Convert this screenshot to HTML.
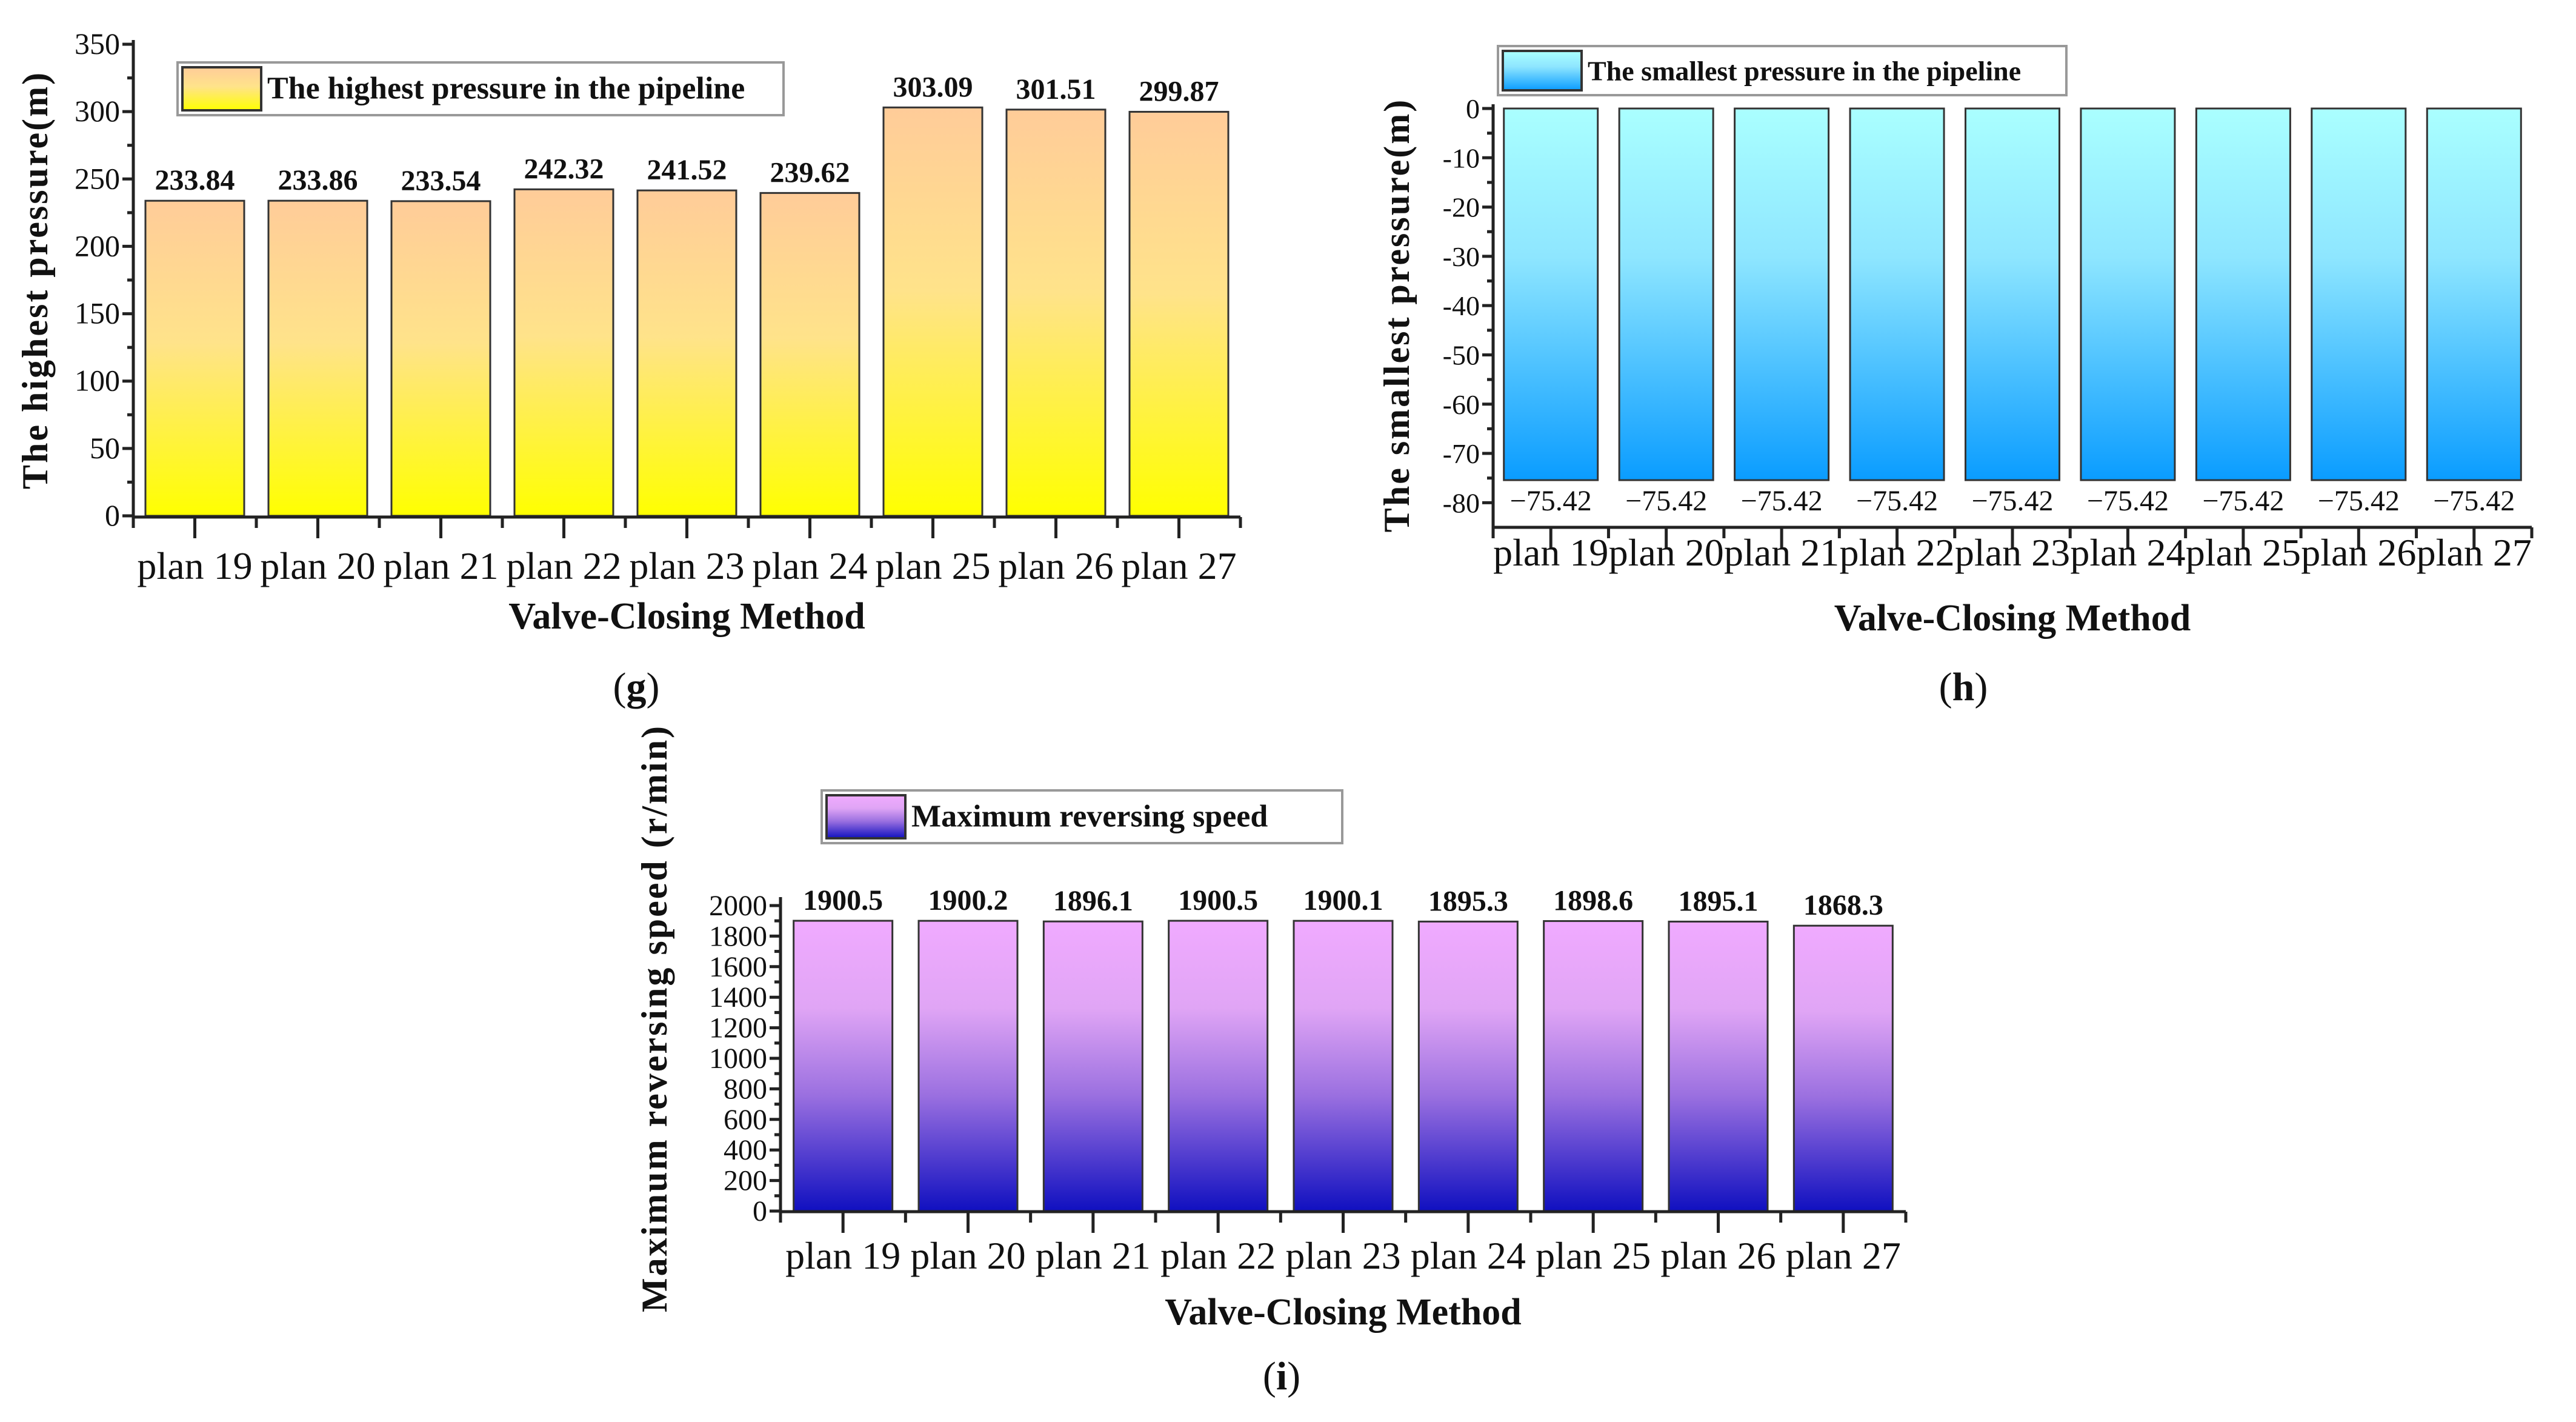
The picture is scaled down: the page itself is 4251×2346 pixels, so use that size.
<!DOCTYPE html>
<html><head><meta charset="utf-8"><style>
html,body{margin:0;padding:0;background:#fff;}
svg{display:block;font-family:"Liberation Serif",serif;}
</style></head><body>
<svg id="fig" width="4251" height="2346" viewBox="0 0 4251 2346" xmlns="http://www.w3.org/2000/svg">
<defs>
<linearGradient id="gG" x1="0" y1="0" x2="0" y2="1"><stop offset="0" stop-color="#FFCC99"/><stop offset="0.45" stop-color="#FFE38A"/><stop offset="1" stop-color="#FFFF00"/></linearGradient>
<linearGradient id="gH" x1="0" y1="0" x2="0" y2="1"><stop offset="0" stop-color="#AAFFFF"/><stop offset="0.4" stop-color="#8EE6FF"/><stop offset="1" stop-color="#0A9CFF"/></linearGradient>
<linearGradient id="gI" x1="0" y1="0" x2="0" y2="1"><stop offset="0" stop-color="#F0AAFF"/><stop offset="0.3" stop-color="#E0A5F5"/><stop offset="0.6" stop-color="#9B70E0"/><stop offset="1" stop-color="#1010C0"/></linearGradient>
</defs>
</svg>
<script>
const categories = ["plan 19","plan 20","plan 21","plan 22","plan 23","plan 24","plan 25","plan 26","plan 27"];
const highestPressure = [233.84,233.86,233.54,242.32,241.52,239.62,303.09,301.51,299.87];
const highestLabels = ["233.84","233.86","233.54","242.32","241.52","239.62","303.09","301.51","299.87"];
const highestTicks = [0,50,100,150,200,250,300,350];
const smallestPressure = [-75.42,-75.42,-75.42,-75.42,-75.42,-75.42,-75.42,-75.42,-75.42];
const smallestLabels = ["\u221275.42","\u221275.42","\u221275.42","\u221275.42","\u221275.42","\u221275.42","\u221275.42","\u221275.42","\u221275.42"];
const smallestTicks = [0,-10,-20,-30,-40,-50,-60,-70,-80];
const reversingSpeed = [1900.5,1900.2,1896.1,1900.5,1900.1,1895.3,1898.6,1895.1,1868.3];
const reversingLabels = ["1900.5","1900.2","1896.1","1900.5","1900.1","1895.3","1898.6","1895.1","1868.3"];
const reversingTicks = [0,200,400,600,800,1000,1200,1400,1600,1800,2000];

const NS="http://www.w3.org/2000/svg";
const svg=document.getElementById('fig');
function mk(tag,attrs,parent,text){const e=document.createElementNS(NS,tag);for(const k in attrs)e.setAttribute(k,attrs[k]);if(text!==undefined)e.textContent=text;(parent||svg).appendChild(e);return e;}

function chart(c){
  const g=mk('g',{});
  
  
  const y=v=>c.y0+(v-c.vMin)/(c.vMax-c.vMin)*(c.y1-c.y0);
  const n=categories.length, step=(c.xR-c.xL)/n;
  const cx=i=>c.xL+step*(i+0.5);
  const base=y(0);
  c.values.forEach((v,i)=>{
    const top=Math.min(y(v),base), h=Math.abs(y(v)-base);
    const r=mk('rect',{x:cx(i)-c.bw/2,y:top,width:c.bw,height:h,fill:'url(#'+c.grad+')',stroke:'#333','stroke-width':3},g);
    
    
    const t=mk('text',{x:cx(i),y:(c.labelBelow? y(v)+c.labelOff : y(v)-c.labelOff),'text-anchor':'middle','font-size':c.valFs,'font-weight':c.valBold?'bold':'normal',fill:'#111'},g,c.labels[i]);
    
    
  });
  const ax=mk('g',{stroke:'#222','stroke-width':5,fill:'none'},g);
  
  
  mk('line',{x1:c.xL,y1:c.axTop,x2:c.xL,y2:c.axBot},ax);
  mk('line',{x1:c.xL,y1:c.xAxisY,x2:c.xR,y2:c.xAxisY},ax);
  c.ticks.forEach(t=>{
    mk('line',{x1:c.xL-18,y1:y(t),x2:c.xL,y2:y(t)},ax);
    const tl=mk('text',{x:c.xL-22,y:y(t)+16,'text-anchor':'end','font-size':c.tickFs,fill:'#111'},g,String(t));
    
    
  });
  for(let i=0;i<c.ticks.length-1;i++){const m=(c.ticks[i]+c.ticks[i+1])/2;mk('line',{x1:c.xL-10,y1:y(m),x2:c.xL,y2:y(m)},ax);}
  for(let i=0;i<=n;i++){const xx=c.xL+step*i;mk('line',{x1:xx,y1:c.xAxisY,x2:xx,y2:c.xAxisY+18},ax);}
  categories.forEach((s,i)=>{
    mk('line',{x1:cx(i),y1:c.xAxisY,x2:cx(i),y2:c.xAxisY+35},ax);
    const tl=mk('text',{x:cx(i),y:c.xLabY,'text-anchor':'middle','font-size':c.xFs,fill:'#111'},g,s);
    
    
  });
  const xt=mk('text',{x:(c.xL+c.xR)/2,y:c.xTitleY,'text-anchor':'middle','font-size':62,'font-weight':'bold',fill:'#111'},g,'Valve-Closing Method');
  
  
  const yt=mk('text',{x:0,y:0,transform:'translate('+c.yTitleX+','+c.yTitleY+') rotate(-90)','text-anchor':'middle','font-size':60,'font-weight':'bold','letter-spacing':3,fill:'#111'},g,c.yTitle);
  
  
  const lg=mk('g',{},g);
  
  
  const L=c.legend;
  mk('rect',{x:L[0],y:L[1],width:L[2],height:L[3],fill:'#fff',stroke:'#999','stroke-width':4},lg);
  mk('rect',{x:L[0]+8,y:L[1]+8,width:130,height:L[3]-16,fill:'url(#'+c.grad+')',stroke:'#333','stroke-width':4},lg);
  mk('text',{x:L[0]+148,y:L[1]+L[3]/2+16,'font-size':c.legFs,'font-weight':'bold',fill:'#111'},lg,c.legendText);
  const cap=mk('text',{x:c.capX,y:c.capY,'text-anchor':'middle','font-size':66,fill:'#111'},g,'(');
  mk('tspan',{'font-weight':'bold'},cap,c.cap);
  mk('tspan',{},cap,')');
  
  
}

chart({name:'chart-highest-pressure',values:highestPressure,labels:highestLabels,ticks:highestTicks,grad:'gG',
  vMin:0,vMax:350,y0:851,y1:73,axTop:66,axBot:851,xAxisY:853,xL:220,xR:2047,bw:163,
  labelBelow:false,labelOff:18,valFs:48,valBold:true,tickFs:50,xFs:64,xLabY:955,xTitleY:1037,
  yTitle:'The highest pressure(m)',yTitleX:78,yTitleY:462,legend:[293,103,1000,87],legendText:'The highest pressure in the pipeline',legFs:52,
  cap:'g',capX:1050,capY:1155});
chart({name:'chart-smallest-pressure',values:smallestPressure,labels:smallestLabels,ticks:smallestTicks,grad:'gH',
  vMin:0,vMax:-85,y0:179,y1:870,axTop:172,axBot:870,xAxisY:870,xL:2464,xR:4178,bw:155,
  labelBelow:true,labelOff:50,valFs:48,valBold:false,tickFs:46,xFs:64,xLabY:933,xTitleY:1040,
  yTitle:'The smallest pressure(m)',yTitleX:2325,yTitleY:520,legend:[2472,76,938,81],legendText:'The smallest pressure in the pipeline',legFs:46,
  cap:'h',capX:3240,capY:1155});
chart({name:'chart-reversing-speed',values:reversingSpeed,labels:reversingLabels,ticks:reversingTicks,grad:'gI',
  vMin:0,vMax:2000,y0:1998,y1:1494,axTop:1480,axBot:1998,xAxisY:1999,xL:1288,xR:3145,bw:163,
  labelBelow:false,labelOff:18,valFs:48,valBold:true,tickFs:48,xFs:64,xLabY:2093,xTitleY:2185,
  yTitle:'Maximum reversing speed (r/min)',yTitleX:1100,yTitleY:1680,legend:[1356,1304,859,87],legendText:'Maximum reversing speed',legFs:52,
  cap:'i',capX:2115,capY:2292});
</script>
</body></html>
